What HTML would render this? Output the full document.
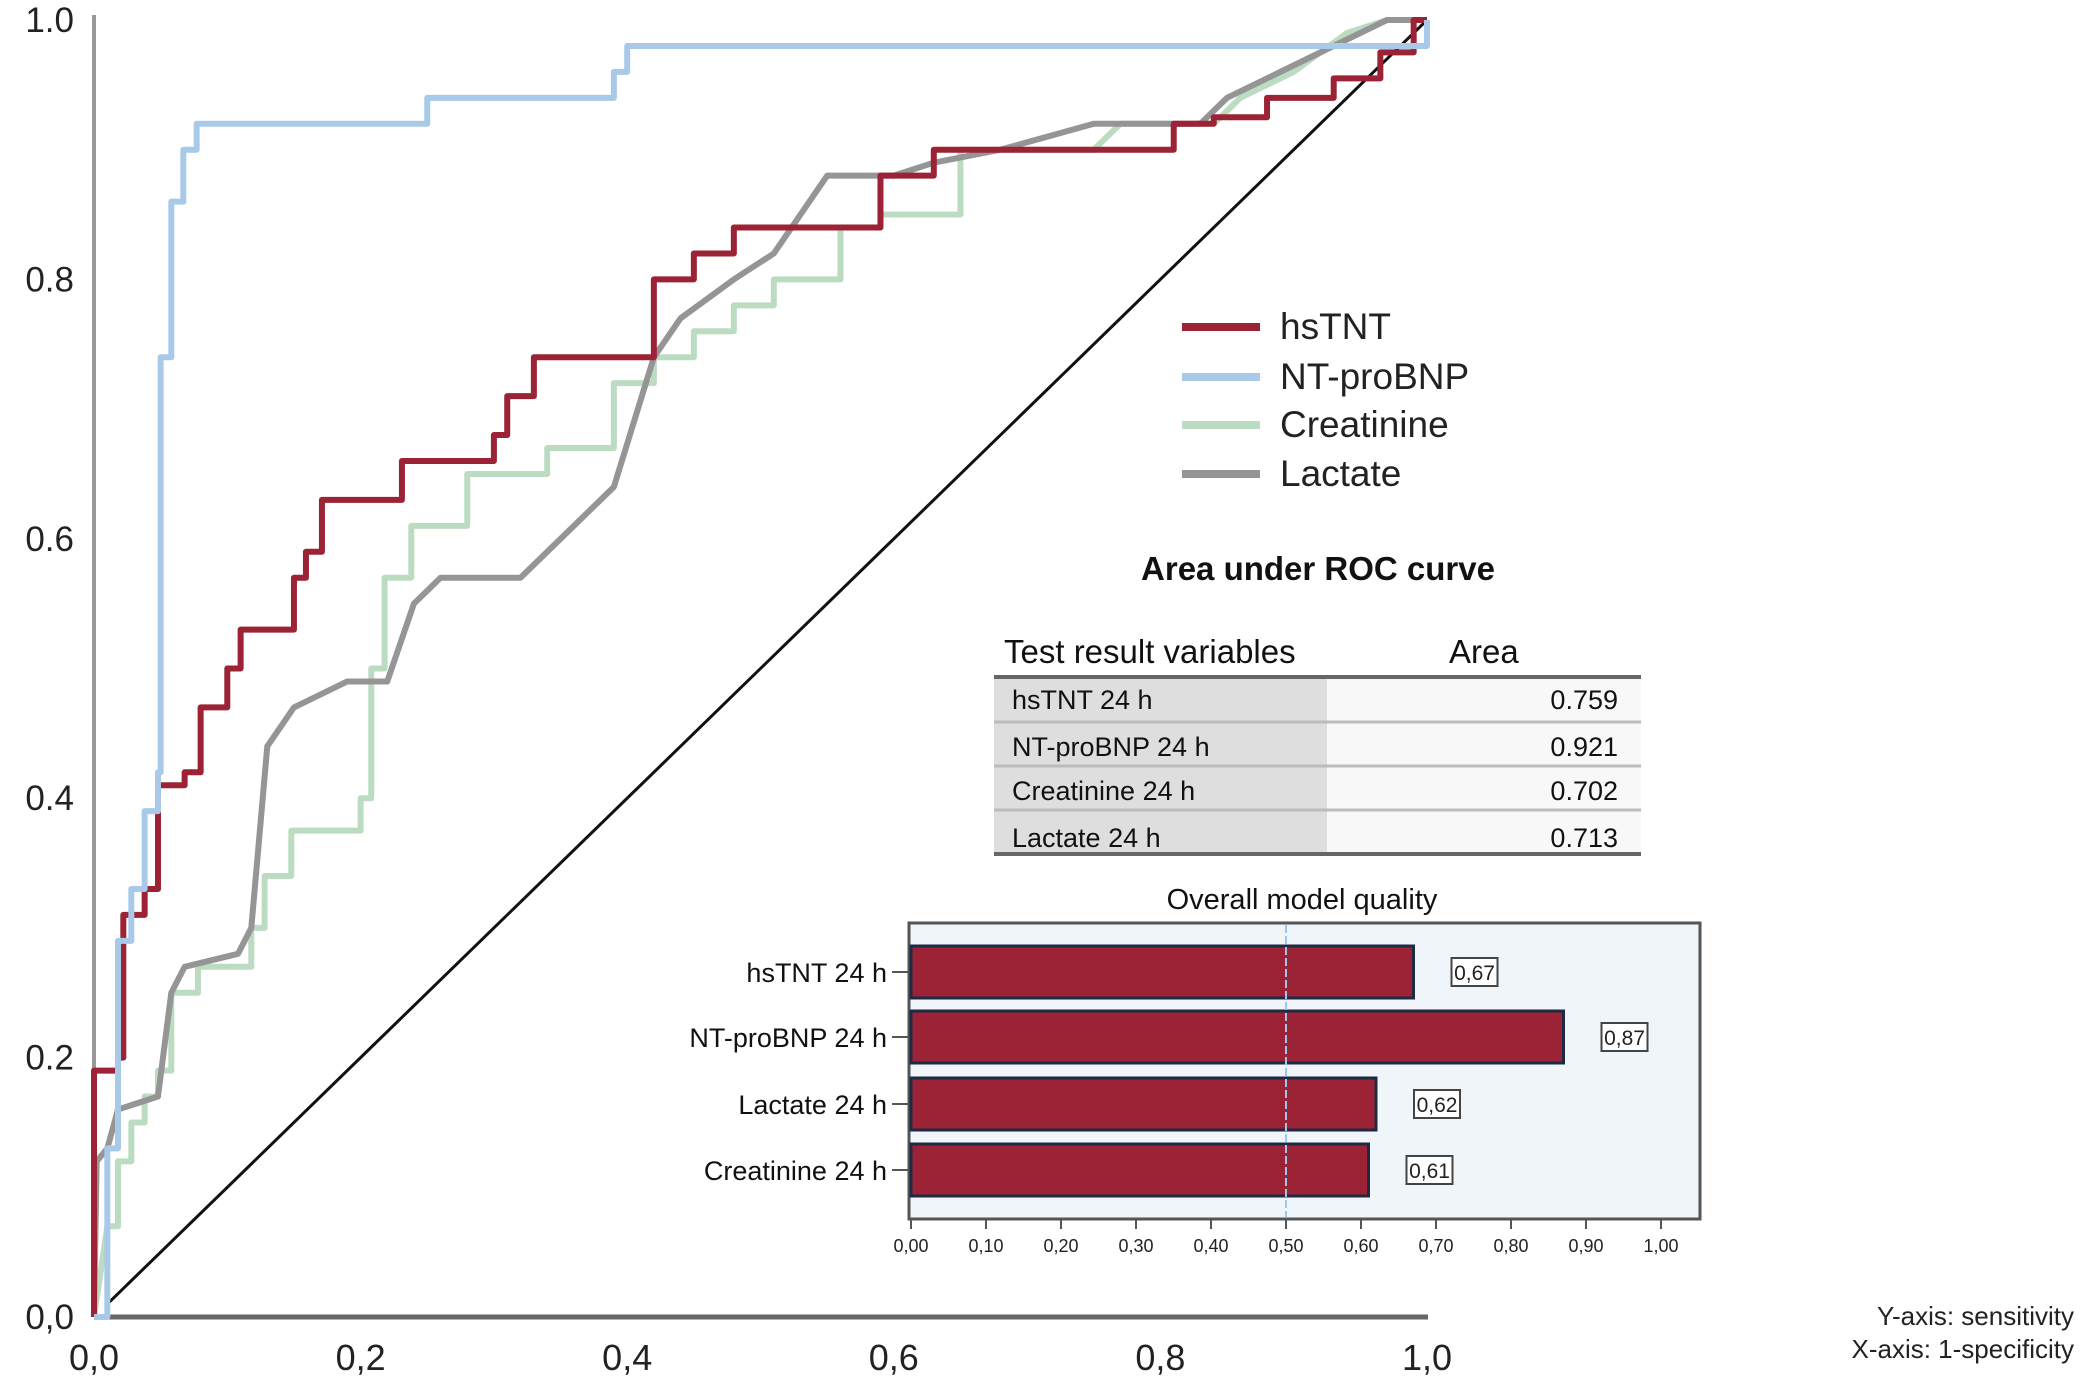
<!DOCTYPE html>
<html><head><meta charset="utf-8"><style>
body{margin:0;background:#fff;}
svg{display:block;font-family:"Liberation Sans",Arial,sans-serif;}
</style></head><body>
<svg id="chart" width="2091" height="1390" viewBox="0 0 2091 1390">
<g id="roc"></g>
<g id="legend"></g>
<g id="table" transform="translate(-6,-2)"></g>
<g id="bars" transform="translate(-6,-3)"></g>
<text x="2074" y="1325" text-anchor="end" font-size="26" fill="#222">Y-axis: sensitivity</text>
<text x="2074" y="1358" text-anchor="end" font-size="26" fill="#222">X-axis: 1-specificity</text>
</svg>
<script>
const NS="http://www.w3.org/2000/svg";
const xTicks=[0,0.2,0.4,0.6,0.8,1.0];
const xTickLabels=["0,0","0,2","0,4","0,6","0,8","1,0"];
const yTicks=[0,0.2,0.4,0.6,0.8,1.0];
const yTickLabels=["0,0","0.2","0.4","0.6","0.8","1.0"];
const seriesNames=["hsTNT","NT-proBNP","Creatinine","Lactate"];
const seriesColors=["#9b2335","#a9c9e9","#bcdcc2","#959595"];
const hsTNT=[[0,0],[0,0.19],[0.018,0.19],[0.018,0.2],[0.022,0.2],[0.022,0.31],[0.038,0.31],[0.038,0.33],[0.048,0.33],[0.048,0.41],[0.068,0.41],[0.068,0.42],[0.08,0.42],[0.08,0.47],[0.10,0.47],[0.10,0.50],[0.11,0.50],[0.11,0.53],[0.15,0.53],[0.15,0.57],[0.159,0.57],[0.159,0.59],[0.171,0.59],[0.171,0.63],[0.231,0.63],[0.231,0.66],[0.30,0.66],[0.30,0.68],[0.31,0.68],[0.31,0.71],[0.33,0.71],[0.33,0.74],[0.42,0.74],[0.42,0.80],[0.45,0.80],[0.45,0.82],[0.48,0.82],[0.48,0.84],[0.59,0.84],[0.59,0.88],[0.63,0.88],[0.63,0.90],[0.81,0.90],[0.81,0.92],[0.84,0.92],[0.84,0.925],[0.88,0.925],[0.88,0.94],[0.93,0.94],[0.93,0.955],[0.965,0.955],[0.965,0.975],[0.99,0.975],[0.99,1.0],[1,1]];
const ntproBNP=[[0,0],[0.01,0],[0.01,0.13],[0.018,0.13],[0.018,0.29],[0.028,0.29],[0.028,0.33],[0.038,0.33],[0.038,0.39],[0.048,0.39],[0.048,0.42],[0.05,0.42],[0.05,0.74],[0.058,0.74],[0.058,0.86],[0.067,0.86],[0.067,0.90],[0.077,0.90],[0.077,0.92],[0.25,0.92],[0.25,0.94],[0.39,0.94],[0.39,0.96],[0.40,0.96],[0.40,0.98],[1.0,0.98],[1,1]];
const creatinine=[[0,0],[0.01,0.07],[0.018,0.07],[0.018,0.12],[0.028,0.12],[0.028,0.15],[0.038,0.15],[0.038,0.17],[0.048,0.17],[0.048,0.19],[0.058,0.19],[0.058,0.25],[0.078,0.25],[0.078,0.27],[0.118,0.27],[0.118,0.30],[0.128,0.30],[0.128,0.34],[0.148,0.34],[0.148,0.375],[0.2,0.375],[0.2,0.4],[0.208,0.4],[0.208,0.50],[0.218,0.50],[0.218,0.57],[0.238,0.57],[0.238,0.61],[0.28,0.61],[0.28,0.65],[0.34,0.65],[0.34,0.67],[0.39,0.67],[0.39,0.72],[0.42,0.72],[0.42,0.74],[0.45,0.74],[0.45,0.76],[0.48,0.76],[0.48,0.78],[0.51,0.78],[0.51,0.80],[0.56,0.80],[0.56,0.84],[0.59,0.84],[0.59,0.85],[0.65,0.85],[0.65,0.90],[0.75,0.90],[0.77,0.92],[0.84,0.92],[0.86,0.94],[0.90,0.96],[0.94,0.99],[0.97,1.0],[1,1]];
const lactate=[[0,0],[0.002,0.12],[0.01,0.13],[0.018,0.16],[0.048,0.17],[0.058,0.25],[0.068,0.27],[0.108,0.28],[0.118,0.30],[0.13,0.44],[0.15,0.47],[0.19,0.49],[0.22,0.49],[0.24,0.55],[0.26,0.57],[0.32,0.57],[0.35,0.60],[0.37,0.62],[0.39,0.64],[0.42,0.74],[0.44,0.77],[0.48,0.80],[0.51,0.82],[0.55,0.88],[0.60,0.88],[0.63,0.89],[0.68,0.90],[0.75,0.92],[0.83,0.92],[0.85,0.94],[0.89,0.96],[0.97,1.0],[1,1]];
const aucVars=["hsTNT 24 h","NT-proBNP 24 h","Creatinine 24 h","Lactate 24 h"];
const aucVals=["0.759","0.921","0.702","0.713"];
const barCats=["hsTNT 24 h","NT-proBNP 24 h","Lactate 24 h","Creatinine 24 h"];
const barVals=[0.67,0.87,0.62,0.61];
const barTicks=[0,0.1,0.2,0.3,0.4,0.5,0.6,0.7,0.8,0.9,1.0];

function el(tag,attrs,parent,txt){const e=document.createElementNS(NS,tag);for(const k in attrs)e.setAttribute(k,attrs[k]);if(txt!==undefined)e.textContent=txt;parent.appendChild(e);return e;}
const X=f=>94+f*1333, Y=t=>1317-t*1297;
const roc=document.getElementById('roc');
let a=el('line',{x1:94,y1:15,x2:94,y2:1317,stroke:'#999',"stroke-width":4},roc);


a=el('line',{x1:94,y1:1317,x2:1428,y2:1317,stroke:'#666',"stroke-width":5},roc);


xTicks.forEach((v,i)=>{const t=el('text',{x:X(v),y:1370,"text-anchor":"middle","font-size":36,fill:'#222'},roc,xTickLabels[i]);

});
yTicks.forEach((v,i)=>{const t=el('text',{x:74,y:Y(v)+12,"text-anchor":"end","font-size":35,fill:'#222'},roc,yTickLabels[i]);

});
const d=el('line',{x1:X(0.01),y1:Y(0.01),x2:X(1),y2:Y(1),stroke:'#111',"stroke-width":3},roc);


const allSeries=[creatinine,lactate,hsTNT,ntproBNP];
const order=[2,3,0,1];
allSeries.forEach((s,k)=>{const i=order[k];
const p=el('polyline',{points:s.map(q=>X(q[0])+','+Y(q[1])).join(' '),fill:'none',stroke:seriesColors[i],"stroke-width":6,"stroke-linejoin":"round"},roc);

});
const lg=document.getElementById('legend');
const ly=[327,377,425,474];
seriesNames.forEach((n,i)=>{const l=el('line',{x1:1182,y1:ly[i],x2:1260,y2:ly[i],stroke:seriesColors[i],"stroke-width":8},lg);


const t=el('text',{x:1280,y:ly[i]+12,"font-size":37,fill:'#222'},lg,n);

});
const tb=document.getElementById('table');
let t=el('text',{x:1324,y:582,"text-anchor":"middle","font-size":33,"font-weight":"bold",fill:'#111'},tb,'Area under ROC curve');


t=el('text',{x:1010,y:665,"font-size":33,fill:'#111'},tb,'Test result variables');


t=el('text',{x:1455,y:665,"font-size":33,fill:'#111'},tb,'Area');


el('rect',{x:1000,y:679,width:333,height:177,fill:'#dedede'},tb);
el('rect',{x:1333,y:679,width:314,height:177,fill:'#f8f8f8'},tb);
el('line',{x1:1000,y1:679,x2:1647,y2:679,stroke:'#666',"stroke-width":4},tb);
[724,768,812].forEach(y=>el('line',{x1:1000,y1:y,x2:1647,y2:y,stroke:'#bbb',"stroke-width":3},tb));
el('line',{x1:1000,y1:856,x2:1647,y2:856,stroke:'#666',"stroke-width":4},tb);
const ry=[711,758,802,849];
aucVars.forEach((v,i)=>{let c=el('text',{x:1018,y:ry[i],"font-size":27,fill:'#111'},tb,v);


c=el('text',{x:1624,y:ry[i],"text-anchor":"end","font-size":27,fill:'#111'},tb,aucVals[i]);

});
const bg=document.getElementById('bars');
const BX=v=>917+v*750;
t=el('text',{x:1308,y:912,"text-anchor":"middle","font-size":29,fill:'#111'},bg,'Overall model quality');


el('rect',{x:915,y:926,width:791,height:296,fill:'#f0f5fa',stroke:'#555',"stroke-width":3},bg);
const by=[949,1014,1081,1147], bh=52;
barCats.forEach((c,i)=>{const r=el('rect',{x:BX(0),y:by[i],width:BX(barVals[i])-BX(0),height:bh,fill:'#9b2335',stroke:'#1e2a44',"stroke-width":3},bg);


const l=el('text',{x:893,y:by[i]+bh/2+10,"text-anchor":"end","font-size":27,fill:'#111'},bg,c);


el('line',{x1:898,y1:by[i]+bh/2,x2:915,y2:by[i]+bh/2,stroke:'#555',"stroke-width":2},bg);
const bx=BX(barVals[i])+38;
el('rect',{x:bx,y:by[i]+12,width:46,height:28,fill:'#fff',stroke:'#444',"stroke-width":2},bg);
const vt=el('text',{x:bx+23,y:by[i]+34,"text-anchor":"middle","font-size":21,fill:'#222'},bg,barVals[i].toFixed(2).replace('.',','));

});
el('line',{x1:BX(0.5),y1:928,x2:BX(0.5),y2:1220,stroke:'#9cc8ee',"stroke-width":2,"stroke-dasharray":"8,3"},bg);
barTicks.forEach(v=>{el('line',{x1:BX(v),y1:1222,x2:BX(v),y2:1232,stroke:'#555',"stroke-width":2},bg);
const tt=el('text',{x:BX(v),y:1255,"text-anchor":"middle","font-size":18,fill:'#222'},bg,v.toFixed(2).replace('.',','));

});
</script>
</body></html>
